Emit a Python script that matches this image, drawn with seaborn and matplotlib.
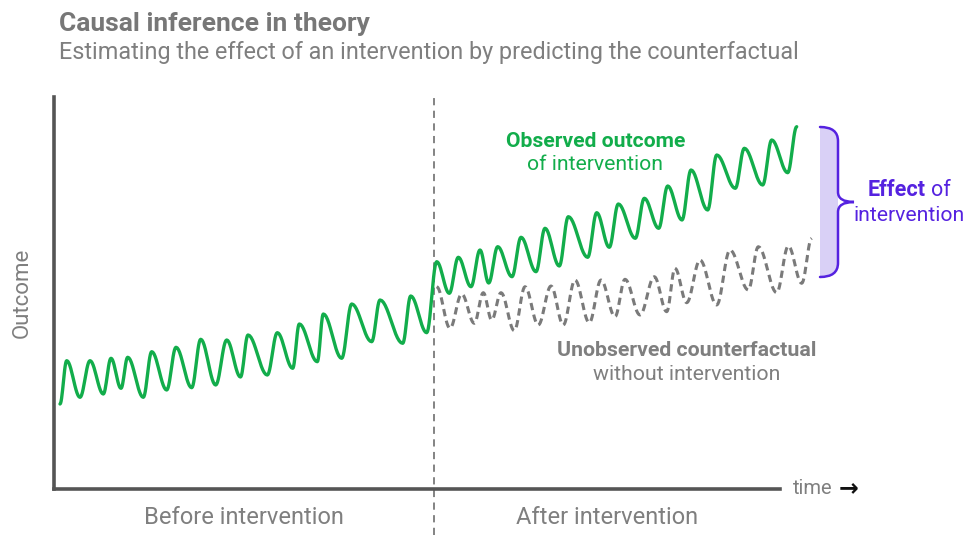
import numpy as np
import pandas as pd
import matplotlib
matplotlib.use("Agg")
import matplotlib.pyplot as plt
from matplotlib.path import Path
from matplotlib.patches import PathPatch
import seaborn as sns

# ---------------- data (turning points of each curve) -------------
observed_time = [6, 12.7, 26, 36, 49.3, 57, 67, 73.7, 89.3, 97.7, 112.7, 122, 137.7, 146.7,
                 161.7, 172.7, 186.5, 194, 213.3, 223.3, 238.7, 245.3, 263.3, 269.3, 287.7,
                 297.7, 317.7, 326, 348.7, 356.7, 372.7, 382.7, 395.3, 404.3, 417, 426,
                 434.7, 443.7, 458, 467, 482, 491, 505.3, 514.3, 533.7, 542.7, 555.3, 564.3,
                 581.3, 590.3, 604.7, 613.7, 628, 637, 653.7, 662.7, 681.3, 690.3, 708.7,
                 717.7, 733.7, 742.7]
observed_outcome = [85, 128.3, 91.7, 128.3, 95, 130.7, 100.7, 131.7, 91.7, 137.3, 99, 141.7,
                    101.3, 149.7, 104, 149, 112, 154, 114, 156.3, 120.7, 165, 127.3, 175,
                    130.7, 185, 147.3, 189, 145.7, 193, 156.3, 227.3, 195.7, 231.7, 202.3,
                    239, 206, 242.3, 212.3, 251.7, 217.3, 260.7, 223, 272.3, 231.7, 276.3,
                    241.7, 285, 250.7, 290.7, 260.7, 303, 269, 319, 279, 334, 300.7, 340.7,
                    304, 349, 316.3, 362.3]

counterfactual_time = [382.7, 396, 407.7, 420.3, 429.3, 437.7, 447, 460.3, 471, 484.3, 497,
                       509.3, 521, 535.3, 547, 561, 571, 586, 600.3, 612.7, 621, 632.7, 646,
                       662.7, 676, 694.3, 704.3, 722.7, 734.3, 747.7, 757.7]
counterfactual_outcome = [202.3, 160.7, 195, 165.7, 196.3, 169, 196.3, 158.3, 202.3, 164,
                          203, 164, 209, 166.3, 209, 172.3, 209.7, 174, 212.3, 177.3, 220.7,
                          186.3, 229, 184, 239, 199, 242.3, 196.3, 243, 205.7, 250.7]

intervention_time = 380
effect_top = 362
effect_bottom = 212

# ---------------- style ----------------
sns.set_theme(style="white")
plt.rcParams["font.family"] = ["Roboto", "DejaVu Sans"]

GREEN = "#12ad4b"
GREY_LINE = "#7a7a7a"
GREY_TEXT = "#7f7f7f"
AXIS = "#555555"
PURPLE = "#5522e0"
LAVENDER = "#d9d0f6"


def smooth(xs, ys, n=14):
    """Join turning points with half-cosine segments (flat at each turning point)."""
    px, py = [], []
    t = np.linspace(0, 1, n)
    for i in range(len(xs) - 1):
        w = (1 - np.cos(np.pi * t)) / 2
        px.extend(xs[i] + (xs[i + 1] - xs[i]) * t[:-1])
        py.extend(ys[i] + (ys[i + 1] - ys[i]) * w[:-1])
    px.append(xs[-1])
    py.append(ys[-1])
    return pd.DataFrame({"time": px, "outcome": py})


obs = smooth(observed_time, observed_outcome)
cf = smooth(counterfactual_time, counterfactual_outcome)

fig = plt.figure(figsize=(9.74, 5.41), dpi=100)
ax = fig.add_axes([54 / 974, (541 - 489) / 541, 726 / 974, 392 / 541])

sns.lineplot(data=cf, x="time", y="outcome", sort=False, estimator=None, ax=ax,
             color=GREY_LINE, lw=2.2)
ax.lines[-1].set_dashes((2.4, 1.5))
sns.lineplot(data=obs, x="time", y="outcome", sort=False, estimator=None, ax=ax,
             color=GREEN, lw=2.4)
for ln in ax.lines:
    ln.set_clip_on(False)
    ln.set_solid_capstyle("round")

ax.set_xlim(0, 726)
ax.set_ylim(0, 392)
ax.set_xticks([])
ax.set_yticks([])
ax.set_xlabel("")
ax.set_ylabel("")
for s in ["top", "right"]:
    ax.spines[s].set_visible(False)
for s in ["left", "bottom"]:
    ax.spines[s].set_color(AXIS)
    ax.spines[s].set_linewidth(2.6)

# intervention line
ax.plot([intervention_time, intervention_time], [-46, 392], color=GREY_LINE, lw=1.3,
        ls=(0, (4, 3)), clip_on=False, zorder=1)

# brace + fill
xl, xs_, xt = 766, 784, 800
mid = (effect_top + effect_bottom) / 2
fill_path = Path([(xl, effect_top), (xs_, effect_top), (xs_, effect_top - 14),
                  (xs_, effect_bottom + 14), (xs_, effect_bottom), (xl, effect_bottom),
                  (xl, effect_top)],
                 [Path.MOVETO, Path.CURVE3, Path.CURVE3, Path.LINETO, Path.CURVE3,
                  Path.CURVE3, Path.CLOSEPOLY])
ax.add_patch(PathPatch(fill_path, facecolor=LAVENDER, edgecolor="none", clip_on=False))
brace_path = Path([(xl, effect_top), (xs_, effect_top), (xs_, effect_top - 14),
                   (xs_, mid + 10), (xs_, mid), (xt, mid),
                   (xs_, mid), (xs_, mid - 10),
                   (xs_, effect_bottom + 14), (xs_, effect_bottom), (xl, effect_bottom)],
                  [Path.MOVETO, Path.CURVE3, Path.CURVE3, Path.LINETO, Path.CURVE3,
                   Path.CURVE3, Path.CURVE3, Path.CURVE3, Path.LINETO, Path.CURVE3,
                   Path.CURVE3])
ax.add_patch(PathPatch(brace_path, facecolor="none", edgecolor=PURPLE, lw=1.8,
                       clip_on=False, capstyle="round"))

# ---------------- texts ----------------
fig.text(59 / 974, 1 - 24 / 541, "Causal inference in theory", fontsize=19,
         fontweight="bold", color="#777777", va="center", ha="left")
fig.text(59 / 974, 1 - 53 / 541,
         "Estimating the effect of an intervention by predicting the counterfactual",
         fontsize=16.8, color=GREY_TEXT, va="center", ha="left")

ax.text(542, 348, "Observed outcome", color=GREEN, fontsize=15.2, fontweight="bold",
        ha="center", va="center")
ax.text(541, 325, "of intervention", color=GREEN, fontsize=15.2, ha="center", va="center")
ax.text(633, 139, "Unobserved counterfactual", color=GREY_TEXT, fontsize=15.3,
        fontweight="bold", ha="center", va="center")
ax.text(633, 115, "without intervention", color=GREY_TEXT, fontsize=15.3, ha="center",
        va="center")
ax.text(872, 299, "Effect", color=PURPLE, fontsize=15.5, fontweight="bold", ha="right",
        va="center", clip_on=False)
ax.text(877, 299, "of", color=PURPLE, fontsize=15.5, ha="left", va="center",
        clip_on=False)
ax.text(855, 274, "intervention", color=PURPLE, fontsize=15.2, ha="center", va="center",
        clip_on=False)

ax.text(-32, 196, "Outcome", color=GREY_TEXT, fontsize=16, rotation=90, ha="center",
        va="center")
ax.text(190, -28, "Before intervention", color=GREY_TEXT, fontsize=17, ha="center",
        va="center")
ax.text(553, -28, "After intervention", color=GREY_TEXT, fontsize=17, ha="center",
        va="center")
ax.text(739, 0, "time", color=GREY_TEXT, fontsize=14.5, ha="left", va="center")
ax.text(785, 1, "\u2192", color="#111111", fontsize=17, fontweight="bold", ha="left",
        va="center", family=["DejaVu Sans"])

fig.savefig("out.png", dpi=100, facecolor="white")
